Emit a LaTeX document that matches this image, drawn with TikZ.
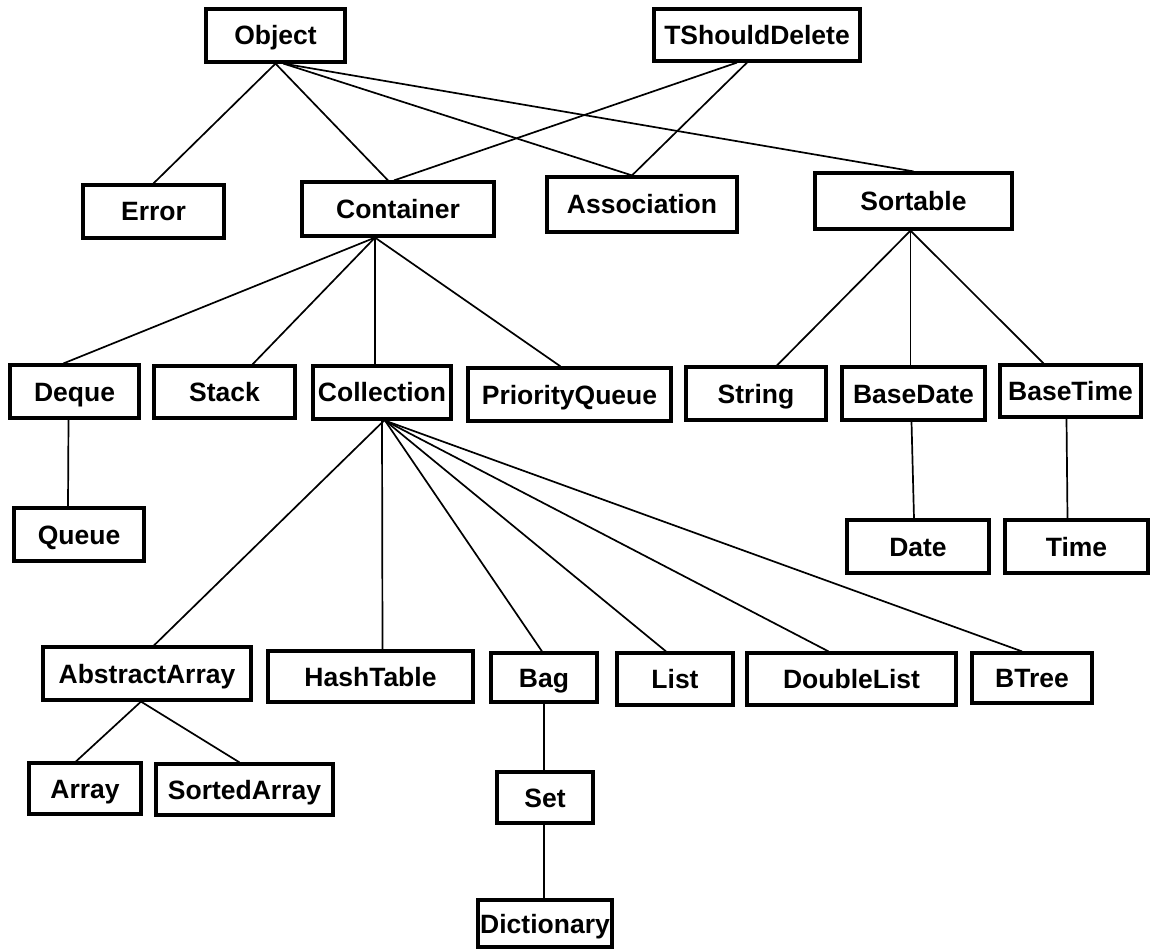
\documentclass[tikz,border=0pt]{standalone}
\usepackage{fontspec}
\setmainfont{Liberation Sans}
\begin{document}
\begin{tikzpicture}[x=1pt,y=-1pt,
  cls/.style={draw=black, line width=3.2pt, inner sep=0pt, text height=19pt, text depth=0pt, font=\fontsize{26.5}{30}\selectfont\bfseries},
  lk/.style={draw=black, line width=1.7pt}]
\useasboundingbox (0,0) rectangle (1151,949);
\newcommand\bx[6]{\node[cls, minimum width={(#4-#2)*1pt}, minimum height={(#5-#3)*1pt}] (#1) at ({(#2+#4)/2},{(#3+#5)/2}) {#6};}
\bx{object}{206}{9}{345}{62}{Object}
\bx{tsd}{654}{9}{860}{61}{TShouldDelete}
\bx{error}{83}{185}{224}{238}{Error}
\bx{container}{302}{182}{494}{236}{Container}
\bx{assoc}{547}{177}{737}{232}{Association}
\bx{sortable}{815}{173}{1012}{229}{Sortable}
\bx{deque}{10}{365}{139}{418}{Deque}
\bx{stack}{154}{366}{295}{418}{Stack}
\bx{collection}{313}{366}{451}{419}{Collection}
\bx{pq}{468}{368}{671}{421}{PriorityQueue}
\bx{string}{686}{367}{826}{420}{String}
\bx{basedate}{842}{367}{985}{420}{BaseDate}
\bx{basetime}{1000}{365}{1141}{417}{BaseTime}
\bx{queue}{14}{508}{144}{561}{Queue}
\bx{date}{847}{520}{989}{573}{Date}
\bx{time}{1005}{520}{1148}{573}{Time}
\bx{abstractarray}{43}{647}{251}{700}{AbstractArray}
\bx{hashtable}{268}{651}{473}{702}{HashTable}
\bx{bag}{491}{653}{597}{702}{Bag}
\bx{list}{617}{653}{733}{705}{List}
\bx{doublelist}{747}{653}{956}{705}{DoubleList}
\bx{btree}{972}{653}{1092}{703}{BTree}
\bx{array}{29}{763}{141}{814}{Array}
\bx{sortedarray}{156}{764}{333}{815}{SortedArray}
\bx{set}{497}{772}{593}{823}{Set}
\bx{dictionary}{478}{900}{612}{947}{Dictionary}
% Object
\draw[lk] (object.south) -- (error.north);
\draw[lk] (object.south) -- ([xshift=-10pt]container.north);
\draw[lk] ([xshift=8pt]object.south) -- ([xshift=-10pt]assoc.north);
\draw[lk] ([xshift=8pt]object.south) -- (sortable.north);
% TShouldDelete
\draw[lk] ([xshift=-20pt]tsd.south) -- ([xshift=-4pt]container.north);
\draw[lk] ([xshift=-10pt]tsd.south) -- ([xshift=-10pt]assoc.north);
% Container
\draw[lk] ([xshift=-23pt]container.south) -- ([xshift=-11pt]deque.north);
\draw[lk] ([xshift=-23pt]container.south) -- ([xshift=28pt]stack.north);
\draw[lk] ([xshift=-23pt]container.south) -- ([xshift=-7pt]collection.north);
\draw[lk] ([xshift=-23pt]container.south) -- ([xshift=-9pt]pq.north);
% Deque
\draw[lk] ([xshift=-6pt]deque.south) -- ([xshift=-11pt]queue.north);
% Collection
\draw[lk] ([xshift=2pt]collection.south) -- ([xshift=7pt]abstractarray.north);
\draw[lk] (collection.south) -- ([xshift=12pt]hashtable.north);
\draw[lk] ([xshift=3pt]collection.south) -- ([xshift=-2pt]bag.north);
\draw[lk] ([xshift=3pt]collection.south) -- ([xshift=-9pt]list.north);
\draw[lk] ([xshift=3pt]collection.south) -- ([xshift=-23pt]doublelist.north);
\draw[lk] ([xshift=3pt]collection.south) -- ([xshift=-10pt]btree.north);
% AbstractArray
\draw[lk] ([xshift=-6pt]abstractarray.south) -- ([xshift=-9pt]array.north);
\draw[lk] ([xshift=-6pt]abstractarray.south) -- ([xshift=-5pt]sortedarray.north);
% Bag / Set
\draw[lk] (bag.south) -- ([xshift=-1pt]set.north);
\draw[lk] ([xshift=-1pt]set.south) -- ([xshift=-1pt]dictionary.north);
% Sortable
\draw[lk] ([xshift=-3pt]sortable.south) -- ([xshift=21pt]string.north);
\draw[lk] ([xshift=-3pt]sortable.south) -- ([xshift=-3pt]basedate.north);
\draw[lk] ([xshift=-3pt]sortable.south) -- ([xshift=-27pt]basetime.north);
% Base classes
\draw[lk] ([xshift=-2pt]basedate.south) -- ([xshift=-4pt]date.north);
\draw[lk] ([xshift=-4pt]basetime.south) -- ([xshift=-9pt]time.north);
\end{tikzpicture}
\end{document}
